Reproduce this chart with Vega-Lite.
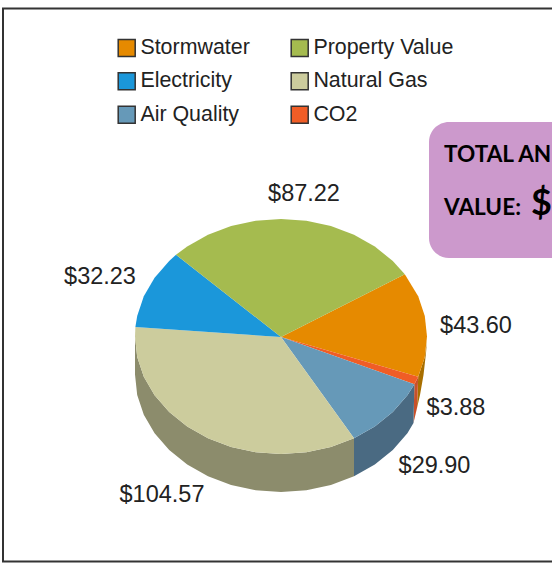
{
"$schema":"https://vega.github.io/schema/vega-lite/v6.json",
"width":552,"height":563,"padding":0,"autosize":{"type":"none"},"background":"white",
"config":{"view":{"stroke":null}},
"layer":[
{"data":{"values":[{"x":3,"x2":3,"y":8,"y2":562},{"x":2,"x2":552,"y":8.5,"y2":8.5},{"x":2,"x2":552,"y":561.5,"y2":561.5}]},
"mark":{"type":"rule","stroke":"#333333","strokeWidth":2},
"encoding":{"x":{"field":"x","type":"quantitative","scale":{"domain":[0,552],"nice":false,"zero":false},"axis":null},"x2":{"field":"x2"},"y":{"field":"y","type":"quantitative","scale":{"domain":[563,0],"nice":false,"zero":false},"axis":null},"y2":{"field":"y2"}}},
{"data":{"values":[{"x":429,"x2":590,"y":122,"y2":258}]},
"mark":{"type":"rect","fill":"#cc99cc","cornerRadius":20},
"encoding":{"x":{"field":"x","type":"quantitative","axis":null},"x2":{"field":"x2"},"y":{"field":"y","type":"quantitative","axis":null},"y2":{"field":"y2"}}},
{"data":{"values":[
{"t":"TOTAL AN","x":444,"y":162,"s":"a"},{"t":"VALUE:","x":444,"y":215,"s":"a"}]},
"mark":{"type":"text","align":"left","baseline":"alphabetic","font":"Lato","fontWeight":"bold","fontSize":22.6,"color":"#000000"},
"encoding":{"x":{"field":"x","type":"quantitative","axis":null},"y":{"field":"y","type":"quantitative","axis":null},"text":{"field":"t"}}},
{"data":{"values":[{"t":"$","x":531,"y":215}]},
"mark":{"type":"text","align":"left","baseline":"alphabetic","font":"Lato","fontWeight":"bold","fontSize":36,"color":"#000000"},
"encoding":{"x":{"field":"x","type":"quantitative","axis":null},"y":{"field":"y","type":"quantitative","axis":null},"text":{"field":"t"}}},
{"data":{"values":[
{"p":"Stormwater side","i":1,"x":427,"y":340},{"p":"Stormwater side","i":2,"x":426,"y":353},{"p":"Stormwater side","i":3,"x":423.5,"y":375},{"p":"Stormwater side","i":4,"x":420,"y":395},{"p":"Stormwater side","i":5,"x":417,"y":408},{"p":"Stormwater side","i":6,"x":418.2,"y":376.7},{"p":"Stormwater side","i":7,"x":424.8,"y":356.9},
{"p":"CO2 side","i":1,"x":418.2,"y":376.7},{"p":"CO2 side","i":2,"x":417,"y":408},{"p":"CO2 side","i":3,"x":413.5,"y":423},{"p":"CO2 side","i":4,"x":414.4,"y":384.3},
{"p":"Air Quality side","i":1,"x":414.4,"y":384.3},{"p":"Air Quality side","i":2,"x":413.5,"y":423},{"p":"Air Quality side","i":3,"x":407.4,"y":433.3},{"p":"Air Quality side","i":4,"x":392.8,"y":450},{"p":"Air Quality side","i":5,"x":374.8,"y":464.5},{"p":"Air Quality side","i":6,"x":354,"y":476.3},{"p":"Air Quality side","i":7,"x":354,"y":438.3},{"p":"Air Quality side","i":8,"x":374.8,"y":426.5},{"p":"Air Quality side","i":9,"x":392.8,"y":412},{"p":"Air Quality side","i":10,"x":407.4,"y":395.3},
{"p":"Natural Gas side","i":1,"x":354,"y":438.3},{"p":"Natural Gas side","i":2,"x":330.9,"y":447},{"p":"Natural Gas side","i":3,"x":306.4,"y":452.2},{"p":"Natural Gas side","i":4,"x":281,"y":454},{"p":"Natural Gas side","i":5,"x":255.6,"y":452.2},{"p":"Natural Gas side","i":6,"x":231.1,"y":447},{"p":"Natural Gas side","i":7,"x":208,"y":438.3},{"p":"Natural Gas side","i":8,"x":187.2,"y":426.5},{"p":"Natural Gas side","i":9,"x":169.2,"y":412},{"p":"Natural Gas side","i":10,"x":154.6,"y":395.3},{"p":"Natural Gas side","i":11,"x":143.8,"y":376.7},{"p":"Natural Gas side","i":12,"x":137.2,"y":356.9},{"p":"Natural Gas side","i":13,"x":135,"y":336.5},{"p":"Natural Gas side","i":14,"x":135,"y":374.5},{"p":"Natural Gas side","i":15,"x":137.2,"y":394.9},{"p":"Natural Gas side","i":16,"x":143.8,"y":414.7},{"p":"Natural Gas side","i":17,"x":154.6,"y":433.3},{"p":"Natural Gas side","i":18,"x":169.2,"y":450},{"p":"Natural Gas side","i":19,"x":187.2,"y":464.5},{"p":"Natural Gas side","i":20,"x":208,"y":476.3},{"p":"Natural Gas side","i":21,"x":231.1,"y":485},{"p":"Natural Gas side","i":22,"x":255.6,"y":490.2},{"p":"Natural Gas side","i":23,"x":281,"y":492},{"p":"Natural Gas side","i":24,"x":306.4,"y":490.2},{"p":"Natural Gas side","i":25,"x":330.9,"y":485},{"p":"Natural Gas side","i":26,"x":354,"y":476.3},
{"p":"Stormwater","i":1,"x":281,"y":337},{"p":"Stormwater","i":2,"x":404.8,"y":274.2},{"p":"Stormwater","i":3,"x":418.2,"y":296.3},{"p":"Stormwater","i":4,"x":424.8,"y":316.1},{"p":"Stormwater","i":5,"x":427,"y":336.5},{"p":"Stormwater","i":6,"x":424.8,"y":356.9},{"p":"Stormwater","i":7,"x":418.2,"y":376.7},
{"p":"CO2","i":1,"x":281,"y":337},{"p":"CO2","i":2,"x":418.2,"y":376.7},{"p":"CO2","i":3,"x":414.4,"y":384.3},
{"p":"Air Quality","i":1,"x":281,"y":337},{"p":"Air Quality","i":2,"x":414.4,"y":384.3},{"p":"Air Quality","i":3,"x":407.4,"y":395.3},{"p":"Air Quality","i":4,"x":392.8,"y":412},{"p":"Air Quality","i":5,"x":374.8,"y":426.5},{"p":"Air Quality","i":6,"x":354,"y":438.3},
{"p":"Natural Gas","i":1,"x":281,"y":337},{"p":"Natural Gas","i":2,"x":354,"y":438.3},{"p":"Natural Gas","i":3,"x":330.9,"y":447},{"p":"Natural Gas","i":4,"x":306.4,"y":452.2},{"p":"Natural Gas","i":5,"x":281,"y":454},{"p":"Natural Gas","i":6,"x":255.6,"y":452.2},{"p":"Natural Gas","i":7,"x":231.1,"y":447},{"p":"Natural Gas","i":8,"x":208,"y":438.3},{"p":"Natural Gas","i":9,"x":187.2,"y":426.5},{"p":"Natural Gas","i":10,"x":169.2,"y":412},{"p":"Natural Gas","i":11,"x":154.6,"y":395.3},{"p":"Natural Gas","i":12,"x":143.8,"y":376.7},{"p":"Natural Gas","i":13,"x":137.2,"y":356.9},{"p":"Natural Gas","i":14,"x":135,"y":336.5},{"p":"Natural Gas","i":15,"x":135.4,"y":327.1},
{"p":"Electricity","i":1,"x":281,"y":337},{"p":"Electricity","i":2,"x":135.4,"y":327.1},{"p":"Electricity","i":3,"x":137.2,"y":316.1},{"p":"Electricity","i":4,"x":143.8,"y":296.3},{"p":"Electricity","i":5,"x":154.6,"y":277.8},{"p":"Electricity","i":6,"x":169.2,"y":261},{"p":"Electricity","i":7,"x":176,"y":254.8},
{"p":"Property Value","i":1,"x":281,"y":337},{"p":"Property Value","i":2,"x":176,"y":254.8},{"p":"Property Value","i":3,"x":187.2,"y":246.5},{"p":"Property Value","i":4,"x":208,"y":234.7},{"p":"Property Value","i":5,"x":231.1,"y":226},{"p":"Property Value","i":6,"x":255.6,"y":220.8},{"p":"Property Value","i":7,"x":281,"y":219},{"p":"Property Value","i":8,"x":306.4,"y":220.8},{"p":"Property Value","i":9,"x":330.9,"y":226},{"p":"Property Value","i":10,"x":354,"y":234.7},{"p":"Property Value","i":11,"x":374.8,"y":246.5},{"p":"Property Value","i":12,"x":392.8,"y":261},{"p":"Property Value","i":13,"x":404.8,"y":274.2}
]},
"mark":{"type":"line","interpolate":"linear-closed","strokeWidth":0},
"encoding":{"x":{"field":"x","type":"quantitative","axis":null},"y":{"field":"y","type":"quantitative","axis":null},"order":{"field":"i"},
"fill":{"field":"p","type":"nominal","scale":{"domain":["Stormwater","Electricity","Air Quality","Property Value","Natural Gas","CO2","Stormwater side","CO2 side","Air Quality side","Natural Gas side"],"range":["#e68a00","#1b97da","#6699b8","#a5bb4f","#cccc9d","#f05d26","#a86f00","#c8502a","#4a6a82","#8c8c6c"]},
"legend":{"values":["Stormwater","Electricity","Air Quality","Property Value","Natural Gas","CO2"],"orient":"none","legendX":116,"legendY":37,"columns":2,"title":null,"symbolType":"square","symbolSize":289,"symbolStrokeColor":"#333333","symbolStrokeWidth":1.5,"labelFont":"Liberation Sans","labelFontSize":21.4,"labelColor":"#222222","labelOffset":3,"rowPadding":9.5,"columnPadding":38}}}},
{"data":{"values":[{"name":"Property Value","value":87.22,"x":304,"y":201},{"name":"Electricity","value":32.23,"x":100,"y":284},{"name":"Stormwater","value":43.60,"x":476,"y":333},{"name":"CO2","value":3.88,"x":456,"y":415},{"name":"Air Quality","value":29.90,"x":434.5,"y":473},{"name":"Natural Gas","value":104.57,"x":162,"y":502}]},
"mark":{"type":"text","align":"center","baseline":"alphabetic","font":"Liberation Sans","fontSize":23.5,"color":"#222222"},
"encoding":{"x":{"field":"x","type":"quantitative","axis":null},"y":{"field":"y","type":"quantitative","axis":null},"text":{"field":"value","type":"quantitative","format":"$.2f"}}}
]}
